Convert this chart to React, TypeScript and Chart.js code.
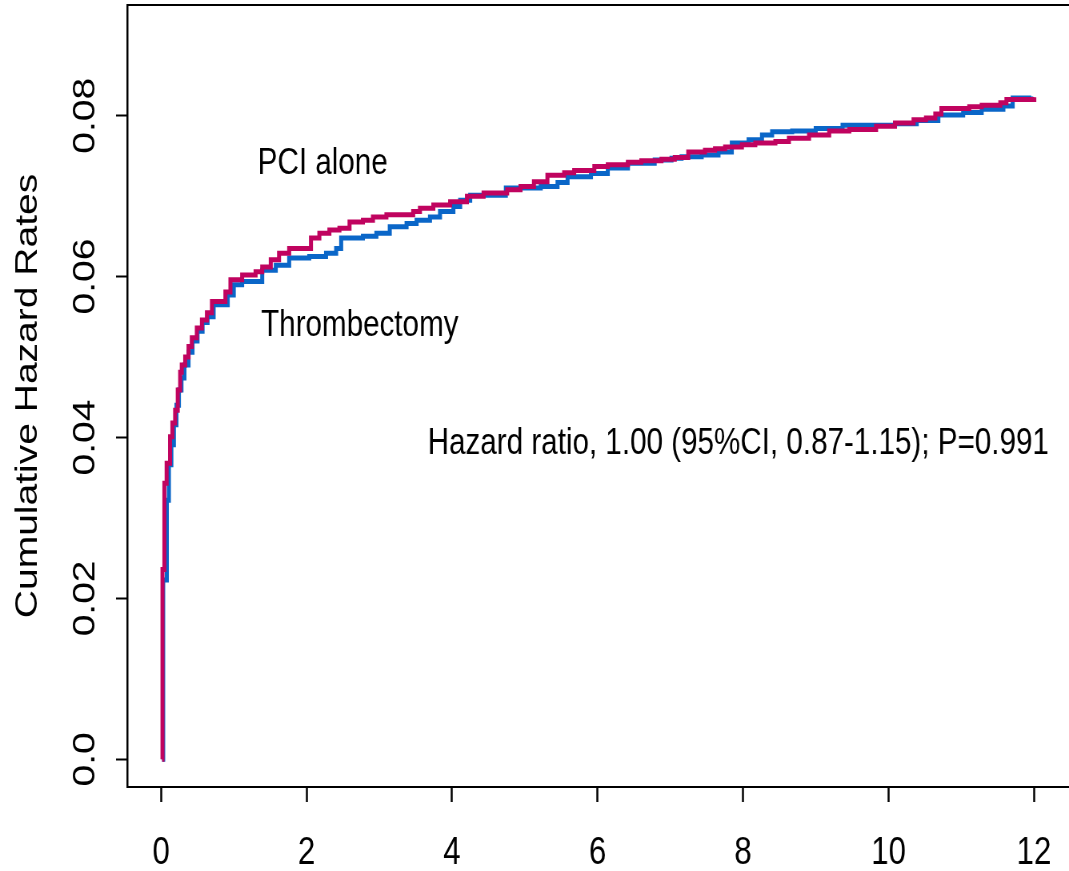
import React, { useEffect, useRef } from "react";
import { Chart, registerables } from "chart.js";

Chart.register(...registerables);

// ---- data (time in years, cumulative hazard) ----
const PCI_T = [0.015, 0.02, 0.046, 0.077, 0.124, 0.156, 0.194, 0.23, 0.263, 0.285, 0.332, 0.378, 0.423, 0.492, 0.562, 0.631, 0.7, 0.885, 0.954, 1.115, 1.3, 1.391, 1.508, 1.622, 1.761, 2.061, 2.176, 2.314, 2.452, 2.591, 2.775, 2.913, 3.098, 3.466, 3.559, 3.743, 3.974, 4.205, 4.434, 4.758, 4.942, 5.126, 5.311, 5.541, 5.679, 5.956, 6.141, 6.418, 6.602, 6.879, 7.062, 7.247, 7.477, 7.615, 7.754, 7.985, 8.169, 8.445, 8.631, 8.907, 9.184, 9.461, 9.829, 10.089, 10.344, 10.515, 10.643, 10.727, 11.11, 11.281, 11.537, 11.621, 12.004];
const PCI_H = [0, 0.0236, 0.0343, 0.0368, 0.0401, 0.0418, 0.0434, 0.0459, 0.0481, 0.049, 0.05, 0.0513, 0.0524, 0.0536, 0.0546, 0.0555, 0.0569, 0.0581, 0.0596, 0.0602, 0.0606, 0.0612, 0.0621, 0.0629, 0.0635, 0.0648, 0.0654, 0.0658, 0.066, 0.0668, 0.067, 0.0674, 0.0677, 0.0681, 0.0685, 0.0689, 0.0693, 0.07, 0.0704, 0.0708, 0.0712, 0.0718, 0.0726, 0.0729, 0.0732, 0.0737, 0.0739, 0.0742, 0.0744, 0.0746, 0.0748, 0.0755, 0.0757, 0.0759, 0.0761, 0.0764, 0.0766, 0.0768, 0.0772, 0.0776, 0.0781, 0.0783, 0.0787, 0.0791, 0.0795, 0.0797, 0.0802, 0.0809, 0.0811, 0.0813, 0.0816, 0.082, 0.0823];

const THR_T = [0.015, 0.03, 0.08, 0.108, 0.142, 0.177, 0.212, 0.246, 0.281, 0.322, 0.378, 0.433, 0.502, 0.571, 0.64, 0.723, 0.917, 1.0, 1.115, 1.391, 1.577, 1.761, 2.037, 2.268, 2.407, 2.476, 2.775, 2.96, 3.144, 3.375, 3.513, 3.697, 3.835, 4.019, 4.112, 4.25, 4.74, 5.219, 5.45, 5.588, 5.91, 6.141, 6.418, 6.786, 7.017, 7.155, 7.432, 7.663, 7.846, 8.077, 8.261, 8.4, 8.676, 8.999, 9.368, 10.089, 10.388, 10.685, 11.026, 11.281, 11.579, 11.707, 11.962];
const THR_H = [0, 0.0223, 0.0322, 0.0366, 0.0391, 0.0416, 0.044, 0.0459, 0.0474, 0.049, 0.0506, 0.052, 0.0532, 0.0543, 0.055, 0.0565, 0.0577, 0.059, 0.0594, 0.0608, 0.0614, 0.0623, 0.0625, 0.0629, 0.0635, 0.0648, 0.065, 0.0654, 0.0662, 0.0666, 0.067, 0.0674, 0.0681, 0.0687, 0.0695, 0.0701, 0.071, 0.0712, 0.0717, 0.0724, 0.0728, 0.0735, 0.0741, 0.0745, 0.0747, 0.0749, 0.0751, 0.0755, 0.0766, 0.077, 0.0776, 0.078, 0.0781, 0.0784, 0.0788, 0.079, 0.0794, 0.0801, 0.0804, 0.0808, 0.0812, 0.0822, 0.0824];

const X_TICKS = [0, 2, 4, 6, 8, 10, 12];
const Y_TICKS = [0, 0.02, 0.04, 0.06, 0.08];
const Y_TICK_LABELS = ["0.0", "0.02", "0.04", "0.06", "0.08"];

const Y_TITLE = "Cumulative Hazard Rates";
const SERIES_NAMES = ["PCI alone", "Thrombectomy"];
const HR_TEXT = "Hazard ratio, 1.00 (95%CI, 0.87-1.15); P=0.991";

// ---- layout ----
const W = 1336;
const H = 871;
const SQUEEZE = 1069 / W;
const X_MIN = -0.4646;
const X_MAX = 12.481;
const Y_MIN = -0.003443;
const Y_MAX = 0.09376;
const FONT = "'Liberation Sans', Arial, Helvetica, sans-serif";

// annotation anchors in data units [x, y]
const LABELS: { text: string; x: number; y: number }[] = [
  { text: SERIES_NAMES[0], x: 1.328, y: 0.07275 },
  { text: SERIES_NAMES[1], x: 1.375, y: 0.05262 },
  { text: HR_TEXT, x: 3.665, y: 0.03791 },
];

const annotationsPlugin = {
  id: "annotations",
  afterDraw(chart: any) {
    const { ctx, chartArea, scales } = chart;
    ctx.save();
    // top border of the plot box
    ctx.strokeStyle = "#000";
    ctx.lineWidth = 2;
    ctx.beginPath();
    ctx.moveTo(chartArea.left, chartArea.top);
    ctx.lineTo(chartArea.right, chartArea.top);
    ctx.stroke();
    ctx.fillStyle = "#000";
    ctx.font = `37px ${FONT}`;
    ctx.textAlign = "left";
    ctx.textBaseline = "alphabetic";
    for (const l of LABELS) {
      ctx.fillText(l.text, scales.x.getPixelForValue(l.x), scales.y.getPixelForValue(l.y));
    }
    ctx.restore();
  },
};

export default function App() {
  const ref = useRef<HTMLCanvasElement | null>(null);

  useEffect(() => {
    if (!ref.current) return;
    const chart = new Chart(ref.current, {
      type: "line",
      data: {
        datasets: [
          {
            label: SERIES_NAMES[0],
            data: PCI_T.map((t, i) => ({ x: t, y: PCI_H[i] })),
            borderColor: "#c0035f",
            borderWidth: 5,
            pointRadius: 0,
            stepped: true,
            fill: false,
          },
          {
            label: SERIES_NAMES[1],
            data: THR_T.map((t, i) => ({ x: t, y: THR_H[i] })),
            borderColor: "#0a66c8",
            borderWidth: 5,
            pointRadius: 0,
            stepped: true,
            fill: false,
          },
        ],
      },
      options: {
        animation: false,
        responsive: false,
        devicePixelRatio: 1,
        layout: { padding: { top: 5, left: 0, right: 0, bottom: 0 } },
        plugins: {
          legend: { display: false },
          tooltip: { enabled: false },
          title: { display: false },
        },
        scales: {
          x: {
            type: "linear",
            min: X_MIN,
            max: X_MAX,
            afterBuildTicks: (s: any) => {
              s.ticks = X_TICKS.map((v) => ({ value: v }));
            },
            afterFit: (s: any) => {
              s.height = 84;
              s.paddingLeft = 0;
              s.paddingRight = 0;
              s.paddingTop = 0;
              s.paddingBottom = 0;
            },
            ticks: {
              color: "#000",
              font: { family: FONT, size: 39 },
              padding: 28,
              maxRotation: 0,
              minRotation: 0,
              callback: (v: any) => String(v),
            },
            grid: {
              drawOnChartArea: false,
              drawTicks: true,
              tickLength: 15,
              tickWidth: 2.5,
              tickColor: "#000",
            },
            border: { display: true, color: "#000", width: 2 },
          },
          y: {
            type: "linear",
            min: Y_MIN,
            max: Y_MAX,
            afterBuildTicks: (s: any) => {
              s.ticks = Y_TICKS.map((v) => ({ value: v }));
            },
            afterFit: (s: any) => {
              s.width = 159;
              s.paddingLeft = 0;
              s.paddingRight = 0;
              s.paddingTop = 0;
              s.paddingBottom = 0;
            },
            ticks: {
              color: "#000",
              font: { family: FONT, size: 39 },
              padding: 0,
              minRotation: 90,
              maxRotation: 90,
              crossAlign: "center",
              callback: (_v: any, i: number) => Y_TICK_LABELS[i],
            },
            grid: {
              drawOnChartArea: false,
              drawTicks: true,
              tickLength: 14,
              tickWidth: 2,
              tickColor: "#000",
            },
            border: { display: true, color: "#000", width: 2.5 },
            title: {
              display: true,
              text: Y_TITLE,
              color: "#000",
              font: { family: FONT, size: 39 },
              padding: { top: 12, bottom: 0 },
            },
          },
        },
      },
      plugins: [annotationsPlugin],
    });
    return () => chart.destroy();
  }, []);

  return (
    <div
      style={{
        position: "absolute",
        left: 0,
        top: 0,
        width: 1069,
        height: 871,
        overflow: "hidden",
        background: "#fff",
      }}
    >
      <div style={{ width: W, height: H, transform: `scaleX(${SQUEEZE})`, transformOrigin: "0 0" }}>
        <canvas ref={ref} width={W} height={H} style={{ display: "block" }} />
      </div>
    </div>
  );
}
